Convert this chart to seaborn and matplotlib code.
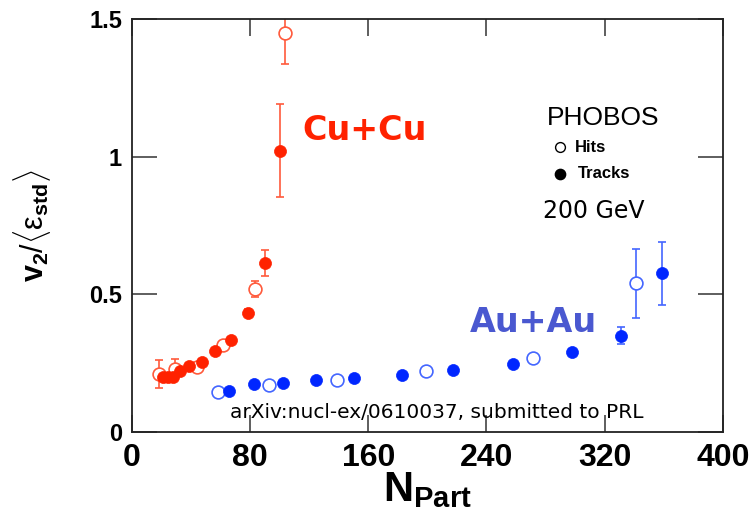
import numpy as np
import pandas as pd
import matplotlib
matplotlib.use("Agg")
import matplotlib.pyplot as plt
import seaborn as sns

# --------------------  DATOS  --------------------
# Cu+Cu
cu_tracks_x   = [21, 24.5, 28, 32.5, 39, 47.5, 56, 67, 78.5, 90.5, 100.5]
cu_tracks_y   = [0.200, 0.200, 0.201, 0.222, 0.240, 0.255, 0.294, 0.334, 0.433, 0.613, 1.022]
cu_tracks_err = [0.0, 0.0, 0.0, 0.010, 0.010, 0.010, 0.010, 0.010, 0.012, 0.047, 0.168]

cu_hits_x   = [18.5, 29.5, 44, 62, 83.5, 103.5]
cu_hits_y   = [0.211, 0.230, 0.237, 0.316, 0.519, 1.450]
cu_hits_err = [0.050, 0.036, 0.010, 0.010, 0.028, 0.115]

# Au+Au
au_tracks_x   = [66, 82.5, 102.5, 124.5, 150.5, 182.8, 217.2, 257.8, 297.6, 330.8, 358.6]
au_tracks_y   = [0.149, 0.173, 0.177, 0.190, 0.197, 0.207, 0.225, 0.247, 0.292, 0.350, 0.576]
au_tracks_err = [0.0, 0.0, 0.0, 0.0, 0.0, 0.0, 0.008, 0.008, 0.008, 0.032, 0.113]

au_hits_x   = [58.6, 93, 139, 199.3, 271.8, 341.1]
au_hits_y   = [0.146, 0.171, 0.189, 0.222, 0.268, 0.540]
au_hits_err = [0.0, 0.0, 0.0, 0.0, 0.0, 0.125]

x_ticks = [0, 80, 160, 240, 320, 400]
y_ticks = [0, 0.5, 1, 1.5]
y_tick_labels = ["0", "0.5", "1", "1.5"]

RED, RED_ERR = "#ff2200", "#ff5a3c"
BLUE, BLUE_ERR = "#0026ff", "#4466ff"

# --------------------  ESTILO  --------------------
sns.set_style("white")
plt.rcParams["font.family"] = ["Liberation Sans Narrow", "Liberation Sans", "DejaVu Sans"]
plt.rcParams["mathtext.fontset"] = "custom"
plt.rcParams["mathtext.rm"] = "Liberation Sans"
plt.rcParams["mathtext.bf"] = "Liberation Sans:bold"
plt.rcParams["mathtext.it"] = "Liberation Sans:italic"
plt.rcParams["text.color"] = "black"
plt.rcParams["axes.labelcolor"] = "black"

fig = plt.figure(figsize=(7.51, 5.09), dpi=100)
ax = fig.add_axes([0.1754, 0.1513, 0.7873, 0.8114])

def serie(x, y, err, color, err_color, filled, size):
    df = pd.DataFrame({"x": x, "y": y, "err": err})
    ax.errorbar(df["x"], df["y"], yerr=df["err"], fmt="none", ecolor=err_color,
                elinewidth=1.2, capsize=3, capthick=1.2, zorder=2)
    if filled:
        sns.scatterplot(data=df, x="x", y="y", ax=ax, color=color, s=size,
                        edgecolor=color, linewidth=0.5, zorder=3, legend=False)
    else:
        sns.scatterplot(data=df, x="x", y="y", ax=ax, s=size, facecolors="white",
                        edgecolors=err_color, linewidth=1.2, zorder=3, legend=False)

serie(cu_hits_x, cu_hits_y, cu_hits_err, RED, RED_ERR, False, 85)
serie(cu_tracks_x, cu_tracks_y, cu_tracks_err, RED, RED_ERR, True, 75)
serie(au_hits_x, au_hits_y, au_hits_err, BLUE, BLUE_ERR, False, 85)
serie(au_tracks_x, au_tracks_y, au_tracks_err, BLUE, BLUE_ERR, True, 75)

# --------------------  EJES  --------------------
ax.set_xlim(0, 400)
ax.set_ylim(0, 1.5)
ax.set_xticks(x_ticks)
ax.set_xticklabels([str(t) for t in x_ticks], fontsize=23, fontweight="bold")
ax.set_yticks(y_ticks)
ax.set_yticklabels(y_tick_labels, fontsize=17, fontweight="bold")
ax.tick_params(axis="x", direction="in", length=12, width=1.1, bottom=True, top=True,
               pad=8, color="#333333", labelcolor="black")
ax.tick_params(axis="y", direction="in", length=18, width=1.1, left=True, right=True,
               pad=7, color="#333333", labelcolor="black")
for sp in ax.spines.values():
    sp.set_color("#222222")
    sp.set_linewidth(1.3)

ax.set_xlabel(r"$\mathbf{N_{Part}}$", fontsize=30, labelpad=-2)
ax.set_ylabel(r"$\mathbf{v_{2}}/\langle\mathrm{\varepsilon}_{\mathbf{std}}\rangle$",
              fontsize=22, labelpad=26)

# --------------------  TEXTOS  --------------------
ax.text(0.288, 0.729, "Cu+Cu", transform=ax.transAxes, color=RED, fontsize=24,
        fontweight="bold", family="DejaVu Sans", va="center", ha="left")
ax.text(0.572, 0.264, "Au+Au", transform=ax.transAxes, color="#4a58d0", fontsize=24,
        fontweight="bold", family="DejaVu Sans", va="center", ha="left")
ax.text(0.166, 0.046, "arXiv:nucl-ex/0610037, submitted to PRL", transform=ax.transAxes,
        fontsize=14.5, family="DejaVu Sans", va="center", ha="left")
ax.text(0.797, 0.760, "PHOBOS", transform=ax.transAxes, fontsize=19,
        family="Liberation Sans", va="center", ha="center")
ax.text(0.782, 0.535, "200 GeV", transform=ax.transAxes, fontsize=17,
        family="DejaVu Sans", va="center", ha="center")

# leyenda manual
ax.scatter([0.724], [0.690], transform=ax.transAxes, s=50, facecolors="white",
           edgecolors="black", linewidth=1.0, zorder=4)
ax.scatter([0.724], [0.625], transform=ax.transAxes, s=55, color="black", zorder=4)
ax.text(0.750, 0.690, "Hits", transform=ax.transAxes, fontsize=12, fontweight="bold",
        family="Liberation Sans", va="center", ha="left")
ax.text(0.755, 0.625, "Tracks", transform=ax.transAxes, fontsize=12, fontweight="bold",
        family="Liberation Sans", va="center", ha="left")

plt.savefig("out.png", dpi=100)
